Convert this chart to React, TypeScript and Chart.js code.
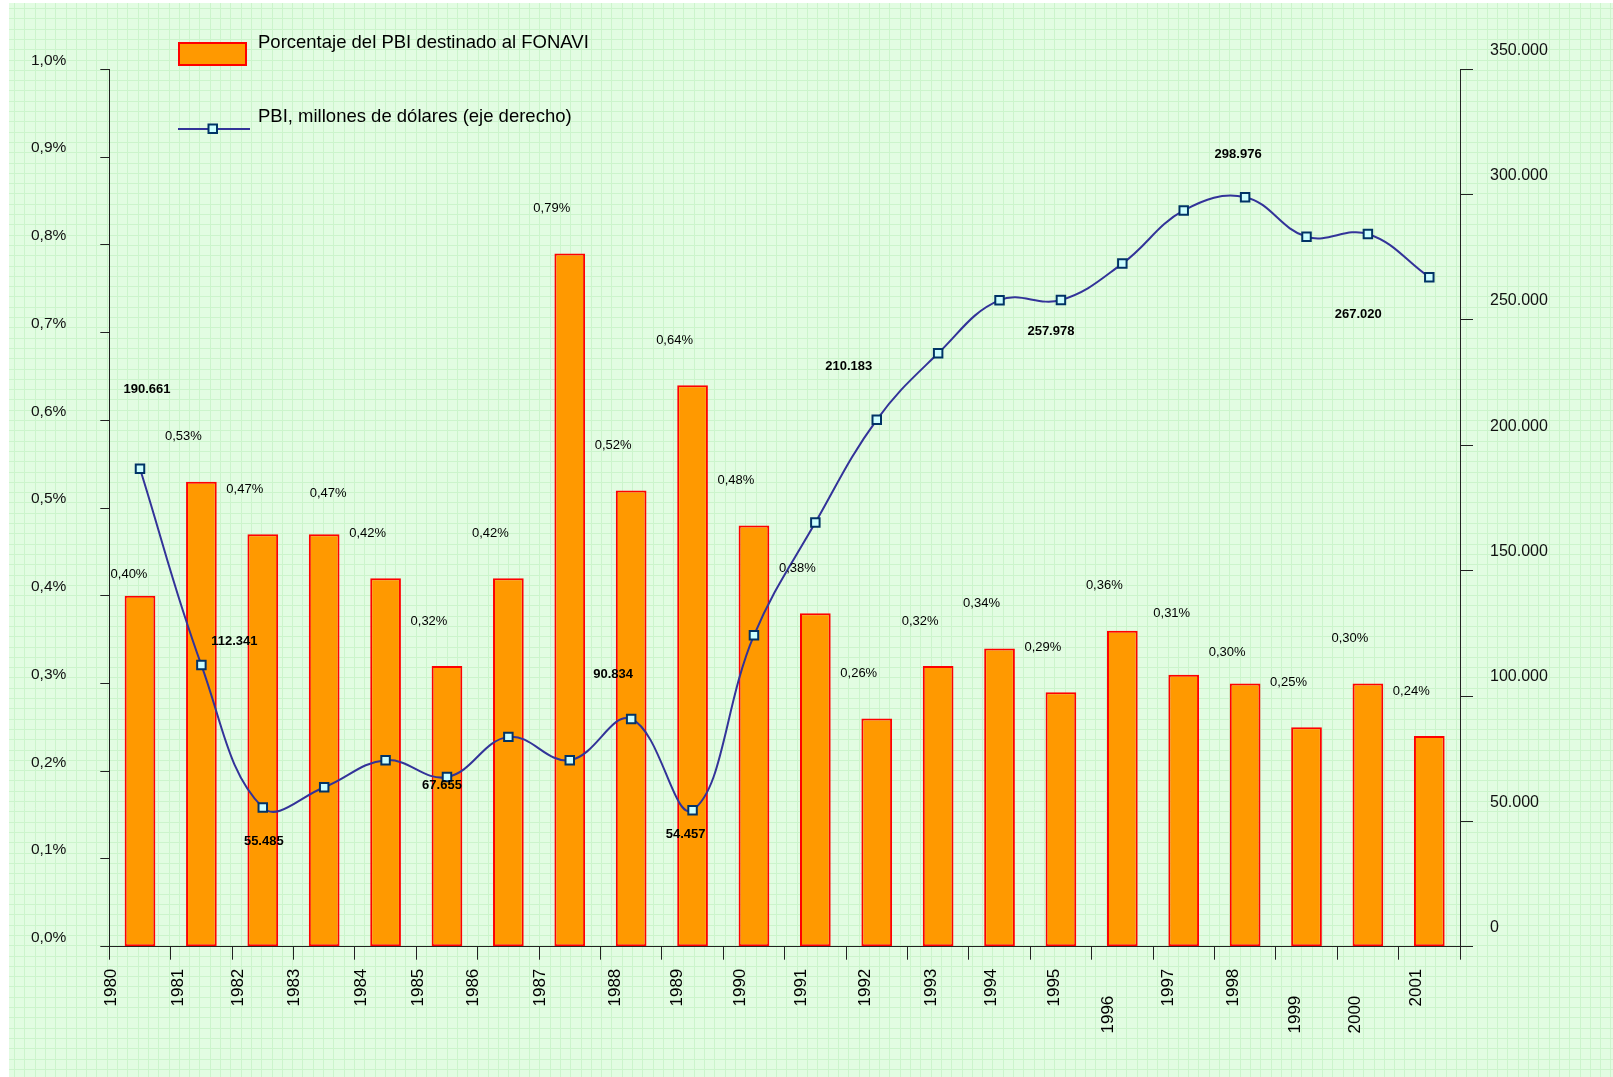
import React, { useEffect, useRef } from 'react';
import { Chart, registerables } from 'chart.js';

Chart.register(...registerables);

// ---------- data ----------
const YEARS = ['1980', '1981', '1982', '1983', '1984', '1985', '1986', '1987', '1988', '1989', '1990',
  '1991', '1992', '1993', '1994', '1995', '1996', '1997', '1998', '1999', '2000', '2001'];

// % of GDP allocated to FONAVI (left axis, in percent units)
const FONAVI_PCT = [0.40, 0.53, 0.47, 0.47, 0.42, 0.32, 0.42, 0.79, 0.52, 0.64, 0.48,
  0.38, 0.26, 0.32, 0.34, 0.29, 0.36, 0.31, 0.30, 0.25, 0.30, 0.24];

// GDP, millions of dollars (right axis)
const PBI_MUSD = [190661, 112341, 55485, 63600, 74400, 67655, 83700, 74400, 90834, 54457, 124200,
  169200, 210183, 236700, 257900, 257978, 272500, 293700, 298976, 283200, 284300, 267020];

// indices of GDP points whose values are printed
const PBI_PRINTED = [0, 1, 2, 5, 8, 9, 12, 15, 18, 21];

const LEFT_TICK_LABELS = ['0,0%', '0,1%', '0,2%', '0,3%', '0,4%', '0,5%', '0,6%', '0,7%', '0,8%', '0,9%', '1,0%'];
const RIGHT_TICK_LABELS = ['0', '50.000', '100.000', '150.000', '200.000', '250.000', '300.000', '350.000'];

const LEGEND_BAR = 'Porcentaje del PBI destinado al FONAVI';
const LEGEND_LINE = 'PBI, millones de dólares (eje derecho)';

// ---------- style ----------
const W = 1613;
const H = 1077;
const FONT = '"Liberation Sans", Arial, Helvetica, sans-serif';
const BAR_FILL = '#FF9900';
const BAR_BORDER = '#FF0000';
const LINE_COLOR = '#333399';
const MARKER_FILL = '#CCFFFF';
const MARKER_BORDER = '#003366';

// label offsets (px) relative to bar top centre
const BAR_LABEL_DEFAULT: [number, number] = [-18, -45];
const BAR_LABEL_OVERRIDE: Record<number, [number, number]> = {
  0: [-11, -21],
  3: [4, -41],
  17: [-12, -61],
  18: [-18, -31],
};
// label offsets (px) relative to line point
const LINE_LABEL_OFFSET: Record<number, [number, number]> = {
  0: [7, -79],
  1: [33, -24],
  2: [1, 34],
  5: [-5, 8],
  8: [-18, -45],
  9: [-7, 24],
  12: [-28, -53],
  15: [-10, 31],
  18: [-7, -43],
  21: [-71, 37],
};
// x tick label horizontal shift from category boundary and vertical drop
const XLABEL_SHIFT = [2, 8, 6, 1, 6, 2, -4, 1, 15, 15, 17, 17, 19, 24, 22, 24, 17, 15, 19, 19, 18, 18];
const XLABEL_DROP: Record<number, number> = { 16: 27, 19: 27, 20: 27 };

const fmtThousands = (v: number) =>
  Math.round(v).toString().replace(/\B(?=(\d{3})+(?!\d))/g, '.');
const fmtPct = (v: number) => v.toFixed(2).replace('.', ',') + '%';

const backgroundPlugin = {
  id: 'bgGrid',
  beforeDraw(chart: any) {
    const ctx = chart.ctx as CanvasRenderingContext2D;
    ctx.save();
    ctx.fillStyle = '#ffffff';
    ctx.fillRect(0, 0, W, H);
    ctx.fillStyle = '#E2FCE2';
    ctx.fillRect(9, 3, W - 9, H - 3);
    ctx.strokeStyle = '#CCF4CC';
    ctx.lineWidth = 1;
    ctx.beginPath();
    for (let x = 14; x < W; x += 10.3) {
      const px = Math.round(x) + 0.5;
      ctx.moveTo(px, 3);
      ctx.lineTo(px, H);
    }
    for (let y = 8; y < H; y += 10.3) {
      const py = Math.round(y) + 0.5;
      ctx.moveTo(9, py);
      ctx.lineTo(W, py);
    }
    ctx.stroke();
    ctx.restore();
  },
};

const overlayPlugin = {
  id: 'overlay',
  afterDatasetsDraw(chart: any) {
    const ctx = chart.ctx as CanvasRenderingContext2D;
    ctx.save();
    ctx.fillStyle = '#000';
    ctx.textAlign = 'center';
    ctx.textBaseline = 'middle';
    // bar labels
    ctx.font = `13px ${FONT}`;
    const barMeta = chart.getDatasetMeta(0);
    barMeta.data.forEach((el: any, i: number) => {
      const off = BAR_LABEL_OVERRIDE[i] || BAR_LABEL_DEFAULT;
      ctx.fillText(fmtPct(FONAVI_PCT[i]), el.x + off[0], el.y + off[1]);
    });
    // line labels
    ctx.font = `bold 13px ${FONT}`;
    const lineMeta = chart.getDatasetMeta(1);
    PBI_PRINTED.forEach((i) => {
      const el = lineMeta.data[i];
      const off = LINE_LABEL_OFFSET[i] || [0, -20];
      ctx.fillText(fmtThousands(PBI_MUSD[i]), el.x + off[0], el.y + off[1]);
    });
    ctx.restore();
  },
  afterDraw(chart: any) {
    const ctx = chart.ctx as CanvasRenderingContext2D;
    const xs = chart.scales.x;
    const area = chart.chartArea;
    const catW = (area.right - area.left) / YEARS.length;
    ctx.save();
    // x category labels (rotated)
    ctx.fillStyle = '#000';
    ctx.font = `17px ${FONT}`;
    ctx.textAlign = 'right';
    ctx.textBaseline = 'middle';
    YEARS.forEach((y, i) => {
      const bx = xs.getPixelForValue(i) - catW / 2 + XLABEL_SHIFT[i];
      const ty = area.bottom + 22 + (XLABEL_DROP[i] || 0);
      ctx.save();
      ctx.translate(bx, ty);
      ctx.rotate(-Math.PI / 2);
      ctx.fillText(y, 0, 0);
      ctx.restore();
    });

    // legend
    ctx.fillStyle = BAR_FILL;
    ctx.fillRect(179, 43, 67, 22);
    ctx.strokeStyle = BAR_BORDER;
    ctx.lineWidth = 2;
    ctx.strokeRect(179, 43, 67, 22);

    ctx.strokeStyle = LINE_COLOR;
    ctx.lineWidth = 2;
    ctx.beginPath();
    ctx.moveTo(178, 129);
    ctx.lineTo(250, 129);
    ctx.stroke();
    ctx.fillStyle = MARKER_FILL;
    ctx.fillRect(208.5, 124.5, 8.5, 8.5);
    ctx.strokeStyle = MARKER_BORDER;
    ctx.strokeRect(208.5, 124.5, 8.5, 8.5);

    ctx.fillStyle = '#000';
    ctx.font = `18.5px ${FONT}`;
    ctx.textAlign = 'left';
    ctx.textBaseline = 'alphabetic';
    ctx.fillText(LEGEND_BAR, 258, 47.5);
    ctx.fillText(LEGEND_LINE, 258, 121.5);
    ctx.restore();
  },
};

export default function App() {
  const ref = useRef<HTMLCanvasElement | null>(null);

  useEffect(() => {
    if (!ref.current) return;
    const chart = new Chart(ref.current, {
      type: 'bar',
      data: {
        labels: YEARS,
        datasets: [
          {
            type: 'bar',
            label: LEGEND_BAR,
            data: FONAVI_PCT,
            yAxisID: 'y',
            backgroundColor: BAR_FILL,
            borderColor: BAR_BORDER,
            borderWidth: 2,
            borderSkipped: false,
            categoryPercentage: 0.5,
            barPercentage: 1,
            order: 1,
          },
          {
            type: 'line',
            label: LEGEND_LINE,
            data: PBI_MUSD,
            yAxisID: 'y1',
            borderColor: LINE_COLOR,
            borderWidth: 2,
            tension: 0.4,
            pointStyle: 'rect',
            pointRadius: 6,
            pointBorderWidth: 2,
            pointBackgroundColor: MARKER_FILL,
            pointBorderColor: MARKER_BORDER,
            order: 0,
          } as any,
        ],
      },
      options: {
        responsive: false,
        animation: false,
        devicePixelRatio: 1,
        layout: { padding: { top: 69.3, left: 0, right: 0, bottom: 0 } },
        plugins: {
          legend: { display: false },
          tooltip: { enabled: false },
          title: { display: false },
        },
        scales: {
          x: {
            type: 'category',
            offset: true,
            grid: {
              display: true,
              offset: true,
              drawOnChartArea: false,
              drawTicks: true,
              tickLength: 13,
              color: '#222',
              lineWidth: 1,
            },
            border: { display: true, color: '#222', width: 1 },
            ticks: { display: false },
            afterFit: (s: any) => { s.height = H - 946.7; },
          },
          y: {
            position: 'left',
            min: 0,
            max: 1,
            ticks: {
              stepSize: 0.1,
              color: '#111',
              font: { family: FONT, size: 15.5 },
              padding: 34,
              labelOffset: -9,
              callback: (_v: any, i: number) => LEFT_TICK_LABELS[i],
            },
            grid: { drawOnChartArea: false, drawTicks: true, tickLength: 9, color: '#222' },
            border: { display: true, color: '#222', width: 1 },
            afterFit: (s: any) => { s.width = 109.3; },
          },
          y1: {
            position: 'right',
            min: 0,
            max: 350000,
            ticks: {
              stepSize: 50000,
              color: '#111',
              font: { family: FONT, size: 16 },
              padding: 17,
              labelOffset: -19,
              callback: (_v: any, i: number) => RIGHT_TICK_LABELS[i],
            },
            grid: { drawOnChartArea: false, drawTicks: true, tickLength: 13, color: '#222' },
            border: { display: true, color: '#222', width: 1 },
            afterFit: (s: any) => { s.width = W - 1460; },
          },
        },
      } as any,
      plugins: [backgroundPlugin, overlayPlugin],
    });
    return () => chart.destroy();
  }, []);

  return (
    <div style={{ position: 'fixed', left: 0, top: 0, width: W, height: H, overflow: 'hidden' }}>
      <canvas ref={ref} width={W} height={H} style={{ display: 'block', width: W, height: H }} />
    </div>
  );
}
